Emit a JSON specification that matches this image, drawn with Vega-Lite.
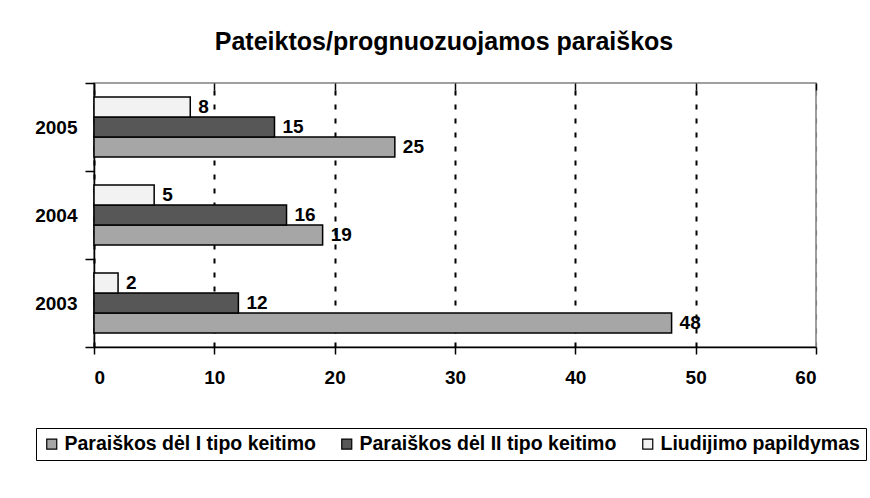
{
  "$schema": "https://vega.github.io/schema/vega-lite/v6.json",
  "width": 722,
  "height": 264,
  "autosize": {"type": "none"},
  "padding": {"left": 94, "top": 83, "right": 54, "bottom": 151},
  "background": "white",
  "title": {
    "text": "Pateiktos/prognuozuojamos paraiškos",
    "font": "Arial",
    "fontSize": 25,
    "fontWeight": "bold",
    "color": "black",
    "anchor": "middle",
    "dx": -11,
    "offset": 19
  },
  "config": {
    "view": {"stroke": "#808080", "strokeWidth": 1.5},
    "font": "Arial",
    "axis": {
      "labelFont": "Arial",
      "labelFontSize": 19,
      "labelFontWeight": "bold",
      "labelColor": "black",
      "domainColor": "black",
      "domainWidth": 1.5,
      "tickColor": "black",
      "tickWidth": 1.5,
      "title": null
    }
  },
  "data": {
    "values": [
      {"year": "2003", "series": "Paraiškos dėl I tipo keitimo", "value": 48},
      {"year": "2003", "series": "Paraiškos dėl II tipo keitimo", "value": 12},
      {"year": "2003", "series": "Liudijimo papildymas", "value": 2},
      {"year": "2004", "series": "Paraiškos dėl I tipo keitimo", "value": 19},
      {"year": "2004", "series": "Paraiškos dėl II tipo keitimo", "value": 16},
      {"year": "2004", "series": "Liudijimo papildymas", "value": 5},
      {"year": "2005", "series": "Paraiškos dėl I tipo keitimo", "value": 25},
      {"year": "2005", "series": "Paraiškos dėl II tipo keitimo", "value": 15},
      {"year": "2005", "series": "Liudijimo papildymas", "value": 8}
    ]
  },
  "encoding": {
    "y": {
      "field": "year",
      "type": "nominal",
      "sort": "descending",
      "scale": {"paddingInner": 0, "paddingOuter": 0},
      "axis": {
        "tickBand": "extent",
        "tickSize": 9,
        "labelPadding": 8,
        "grid": false
      }
    },
    "yOffset": {
      "field": "series",
      "type": "nominal",
      "sort": ["Liudijimo papildymas", "Paraiškos dėl II tipo keitimo", "Paraiškos dėl I tipo keitimo"],
      "scale": {"paddingInner": 0, "paddingOuter": 0.7}
    }
  },
  "resolve": {"axis": {"x": "independent"}},
  "layer": [
    {
      "mark": {"type": "bar", "stroke": "black", "strokeWidth": 1.5},
      "encoding": {
        "x": {
          "field": "value",
          "type": "quantitative",
          "scale": {"domain": [0, 60], "nice": false},
          "axis": {
            "values": [0, 10, 20, 30, 40, 50, 60],
            "tickSize": 7,
            "labelPadding": 14,
            "grid": true,
            "gridColor": {"condition": {"test": "datum.value == 60", "value": "#808080"}, "value": "black"},
            "gridWidth": {"condition": {"test": "datum.value == 60", "value": 1.2}, "value": 2},
            "gridDash": [5, 9]
          }
        },
        "color": {
          "field": "series",
          "type": "nominal",
          "scale": {
            "domain": ["Paraiškos dėl I tipo keitimo", "Paraiškos dėl II tipo keitimo", "Liudijimo papildymas"],
            "range": ["#a6a6a6", "#575757", "#f2f2f2"]
          },
          "legend": {
            "title": null,
            "orient": "none",
            "direction": "horizontal",
            "columns": 3,
            "legendX": -58,
            "legendY": 345,
            "strokeColor": "black",
            "fillColor": "white",
            "padding": 6,
            "symbolType": "square",
            "symbolSize": 100,
            "symbolStrokeColor": "black",
            "symbolStrokeWidth": 1.2,
            "labelFont": "Arial",
            "labelFontSize": 19.5,
            "labelFontWeight": "bold",
            "labelColor": "black",
            "labelOffset": 3,
            "columnPadding": 21,
            "labelLimit": 400
          }
        }
      }
    },
    {
      "mark": {
        "type": "text",
        "align": "left",
        "baseline": "middle",
        "dx": 8,
        "font": "Arial",
        "fontSize": 19,
        "fontWeight": "bold",
        "color": "black"
      },
      "encoding": {
        "x": {
          "field": "value",
          "type": "quantitative",
          "scale": {"domain": [0, 60], "nice": false},
          "axis": {
            "values": [0, 10, 20, 30, 40, 50, 60],
            "tickSize": -7,
            "labels": false,
            "domain": false,
            "grid": false
          }
        },
        "text": {"field": "value", "type": "quantitative"}
      }
    }
  ]
}
